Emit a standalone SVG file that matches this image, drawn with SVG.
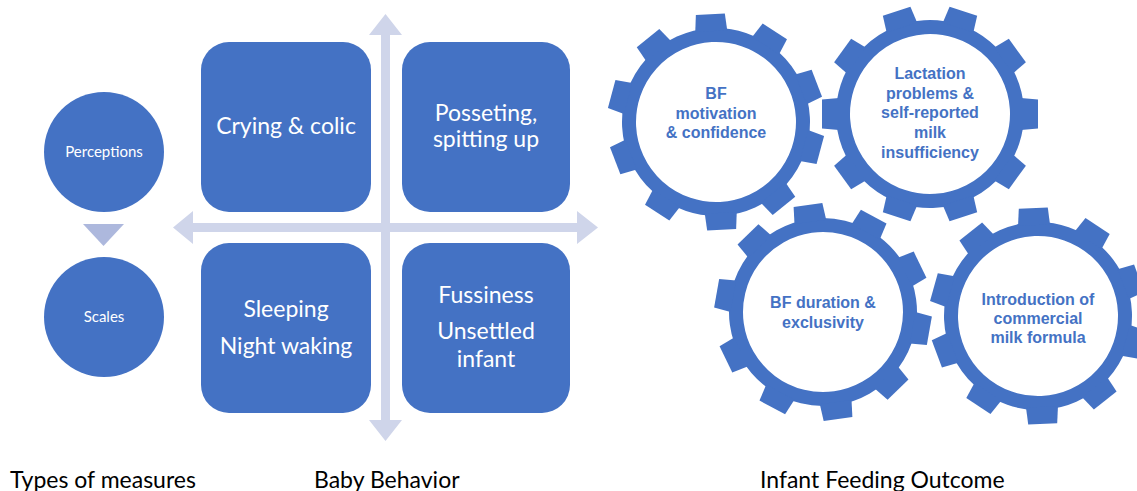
<svg xmlns="http://www.w3.org/2000/svg" width="1137" height="491" viewBox="0 0 1137 491">
  <style>
    .blue { fill: #4472c4; }
    .axis { fill: #cfd5ea; }
    .step { fill: #adb8dd; }
    .small { font-family: Lato, "Open Sans", sans-serif; font-size: 15px; fill: #ffffff; text-anchor: middle; }
    .box { font-family: Lato, "Open Sans", sans-serif; font-size: 23px; fill: #ffffff; text-anchor: middle; }
    .gear-text { font-family: "Liberation Sans", Arial, sans-serif; font-weight: bold; font-size: 16px; fill: #4472c4; text-anchor: middle; }
    .caption { font-family: Lato, "Open Sans", sans-serif; font-size: 23px; fill: #000000; }
  </style>
  <defs>
    <polygon id="tooth" points="-16,-91 16,-91 14.5,-108 -14.5,-108" fill="#4472c4"/>
    <g id="gear">
      <circle r="87" fill="#ffffff" stroke="#4472c4" stroke-width="14"/>
      <use href="#tooth"/>
      <use href="#tooth" transform="rotate(36)"/>
      <use href="#tooth" transform="rotate(72)"/>
      <use href="#tooth" transform="rotate(108)"/>
      <use href="#tooth" transform="rotate(144)"/>
      <use href="#tooth" transform="rotate(180)"/>
      <use href="#tooth" transform="rotate(216)"/>
      <use href="#tooth" transform="rotate(252)"/>
      <use href="#tooth" transform="rotate(288)"/>
      <use href="#tooth" transform="rotate(324)"/>
    </g>
  </defs>

  <rect width="1137" height="491" fill="#ffffff"/>

  <!-- connectors: measure step arrow and the behaviour axes -->
  <g id="connectors">
    <polygon class="step" points="83,224 124,224 103.5,246"/>
    <polygon class="axis" points="385.5,14 402,35 390,35 390,420 402,420 385.5,441 369,420 381,420 381,35 369,35"/>
    <polygon class="axis" points="173,227.5 193,211 193,223 577,223 577,211 598,227.5 577,244 577,232 193,232 193,244"/>
  </g>

  <!-- types of measures -->
  <g id="perceptions">
    <circle class="blue" cx="104" cy="152" r="60"/>
    <text class="small" x="104" y="157">Perceptions</text>
  </g>
  <g id="scales">
    <circle class="blue" cx="104" cy="317" r="60"/>
    <text class="small" x="104" y="322">Scales</text>
  </g>

  <!-- baby behaviour quadrants -->
  <g id="crying">
    <rect class="blue" x="201" y="42" width="170" height="170" rx="28"/>
    <text class="box" x="286" y="134">Crying &amp; colic</text>
  </g>
  <g id="posseting">
    <rect class="blue" x="402" y="42" width="168" height="170" rx="28"/>
    <text class="box" x="486" y="121">Posseting,</text>
    <text class="box" x="486" y="147">spitting up</text>
  </g>
  <g id="sleeping">
    <rect class="blue" x="201" y="243" width="170" height="170" rx="28"/>
    <text class="box" x="286" y="317">Sleeping</text>
    <text class="box" x="286" y="354">Night waking</text>
  </g>
  <g id="fussiness">
    <rect class="blue" x="402" y="243" width="168" height="170" rx="28"/>
    <text class="box" x="486" y="303">Fussiness</text>
    <text class="box" x="486" y="339">Unsettled</text>
    <text class="box" x="486" y="367">infant</text>
  </g>

  <!-- infant feeding outcome gears -->
  <g id="gear-motivation">
    <use href="#gear" transform="translate(716,122) rotate(-3)"/>
    <text class="gear-text" x="716" y="99">BF</text>
    <text class="gear-text" x="716" y="119">motivation</text>
    <text class="gear-text" x="716" y="138">&amp; confidence</text>
  </g>
  <g id="gear-lactation">
    <use href="#gear" transform="translate(930,114) rotate(18)"/>
    <text class="gear-text" x="930" y="79">Lactation</text>
    <text class="gear-text" x="930" y="99">problems &amp;</text>
    <text class="gear-text" x="930" y="118">self-reported</text>
    <text class="gear-text" x="930" y="138">milk</text>
    <text class="gear-text" x="930" y="158">insufficiency</text>
  </g>
  <g id="gear-duration">
    <use href="#gear" transform="translate(823,312) rotate(-8)"/>
    <text class="gear-text" x="823" y="308">BF duration &amp;</text>
    <text class="gear-text" x="823" y="328">exclusivity</text>
  </g>
  <g id="gear-formula">
    <use href="#gear" transform="translate(1038,316) rotate(-2.5)"/>
    <text class="gear-text" x="1038" y="305">Introduction of</text>
    <text class="gear-text" x="1038" y="324">commercial</text>
    <text class="gear-text" x="1038" y="343">milk formula</text>
  </g>

  <!-- column captions -->
  <g id="captions">
    <text class="caption" x="10" y="488">Types of measures</text>
    <text class="caption" x="314" y="488">Baby Behavior</text>
    <text class="caption" x="760" y="488">Infant Feeding Outcome</text>
  </g>
</svg>
